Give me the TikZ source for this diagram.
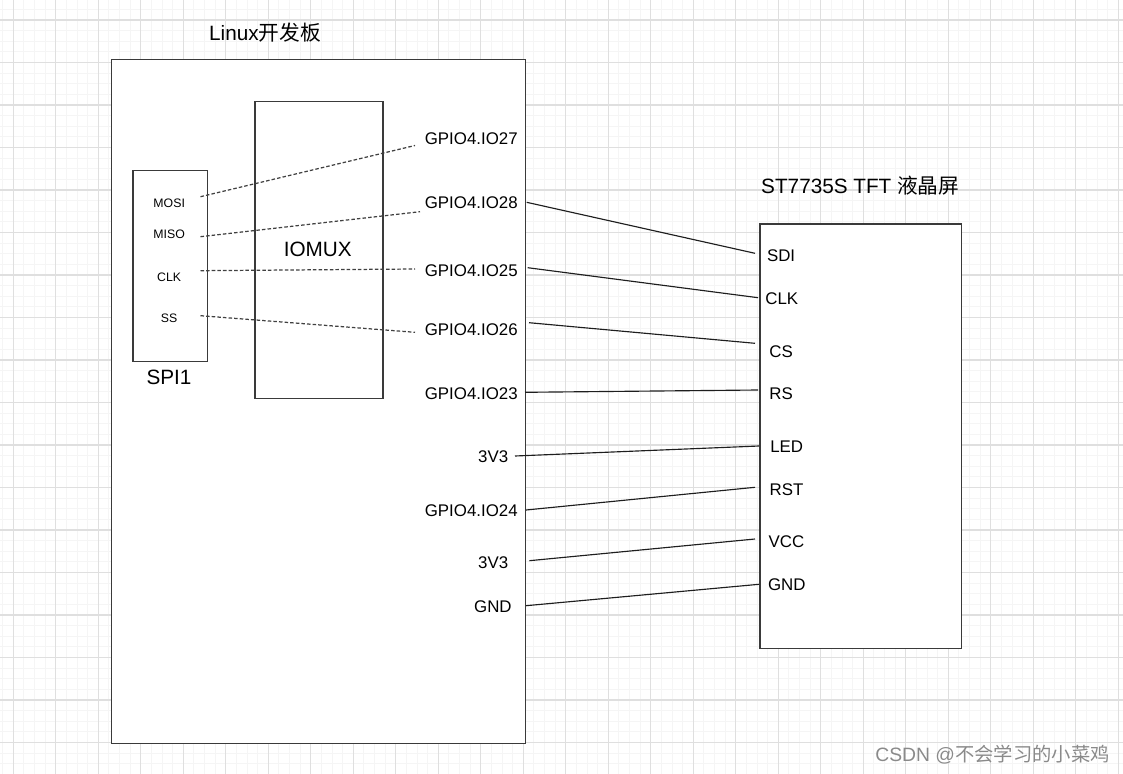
\documentclass[tikz,border=0pt]{standalone}
\usepackage{fontspec}
\setmainfont{Liberation Sans}
\newfontfamily\cjk{Noto Sans CJK SC}
\definecolor{gridmajor}{HTML}{DFDFDF}
\definecolor{gridminor}{HTML}{F5F5F5}
\definecolor{boxline}{HTML}{3A3A3A}
\definecolor{wire}{HTML}{1E1E1E}
\definecolor{mark}{HTML}{8A8A8A}
\tikzset{
  pinlbl/.style={inner sep=0pt, font=\fontsize{9.6}{11}\selectfont},
  siglbl/.style={inner sep=0pt, font=\fontsize{7}{8}\selectfont},
  heading/.style={inner sep=0pt, font=\fontsize{11.8}{14}\selectfont},
  block/.style={draw=boxline, fill=white, line width=0.7pt, anchor=north west, inner sep=0pt},
  link/.style={draw=wire, line width=0.65pt},
  muxlink/.style={draw=black!75, line width=0.7pt, dash pattern=on 2pt off 1.2pt},
}
\begin{document}
\begin{tikzpicture}[x=0.02cm, y=-0.02cm]
\useasboundingbox (0,0) rectangle (1123,774);
%
% background grid
\foreach \i in {0,...,105} \draw[gridminor, line width=0.5pt] ({2.675+10.625*\i},0) -- ++(0,774);
\foreach \j in {0,...,72}  \draw[gridminor, line width=0.5pt] (0,{9.375+10.625*\j}) -- ++(1123,0);
\foreach \i in {0,...,26}  \draw[gridmajor, line width=0.6pt] ({13.3+42.5*\i},0) -- ++(0,774);
\foreach \j in {0,...,17}  \draw[gridmajor, line width=0.6pt] (0,{20+42.5*\j}) -- ++(1123,0);
%
% boxes
\node[block, minimum width=8.28cm, minimum height=13.69cm] (board) at (111,58.7) {};
\node[block, minimum width=2.56cm, minimum height=5.95cm] (iomux) at (254.3,100.7) {};
\node[block, minimum width=1.49cm, minimum height=3.82cm] (spi) at (132.3,170) {};
\node[block, minimum width=4.03cm, minimum height=8.49cm] (lcd) at (759.3,223.3) {};
%
% titles
\node[heading, anchor=base] (boardname) at (265,40) {Linux{\cjk 开发板}};
\node[heading, anchor=base] (iomuxname) at (317.8,256.7) {IOMUX};
\node[heading, anchor=base] (spiname) at (169,384.3) {SPI1};
\node[heading, anchor=base] (lcdname) at (860.3,193.3) {ST7735S TFT {\cjk 液晶屏}};
%
% SPI1 signals
\node[siglbl, anchor=base] (mosi) at (169.2,207.3) {MOSI};
\node[siglbl, anchor=base] (miso) at (169.2,238.3) {MISO};
\node[siglbl, anchor=base] (sclk) at (169.2,281) {CLK};
\node[siglbl, anchor=base] (ss)   at (169.2,322.3) {SS};
%
% board pins
\node[pinlbl, anchor=base east] (g27)  at (518,144)     {GPIO4.IO27};
\node[pinlbl, anchor=base east] (g28)  at (518,208.3)   {GPIO4.IO28};
\node[pinlbl, anchor=base east] (g25)  at (518,276.7)   {GPIO4.IO25};
\node[pinlbl, anchor=base east] (g26)  at (518,335)     {GPIO4.IO26};
\node[pinlbl, anchor=base east] (g23)  at (518,399)     {GPIO4.IO23};
\node[pinlbl, anchor=base east] (pwra) at (508.5,462.3) {3V3};
\node[pinlbl, anchor=base east] (g24)  at (518,516)     {GPIO4.IO24};
\node[pinlbl, anchor=base east] (pwrb) at (508.5,568)   {3V3};
\node[pinlbl, anchor=base east] (gnda) at (512,612.3)   {GND};
%
% screen pins
\node[pinlbl, anchor=base west] (sdi)  at (766.7,261)   {SDI};
\node[pinlbl, anchor=base west] (clk)  at (765,304)     {CLK};
\node[pinlbl, anchor=base west] (cs)   at (769,357)     {CS};
\node[pinlbl, anchor=base west] (rs)   at (769,399)     {RS};
\node[pinlbl, anchor=base west] (led)  at (770,452.7)   {LED};
\node[pinlbl, anchor=base west] (rst)  at (769.3,495)   {RST};
\node[pinlbl, anchor=base west] (vcc)  at (768.3,547.7) {VCC};
\node[pinlbl, anchor=base west] (gndb) at (767.7,590)   {GND};
%
% wire ends
\coordinate (mosiR) at (200.5,196.7);  \coordinate (g27L) at (415,145.5);
\coordinate (misoR) at (200.5,236.7);  \coordinate (g28L) at (420,211.7);
\coordinate (sclkR) at (200.5,270.7);  \coordinate (g25L) at (415,269);
\coordinate (ssR)   at (200.5,315.7);  \coordinate (g26L) at (415,332.3);
%
\coordinate (g28R)  at (526.7,202.3);  \coordinate (sdiL)  at (755,253.3);
\coordinate (g25R)  at (527.7,267.7);  \coordinate (clkL)  at (758,297.7);
\coordinate (g26R)  at (529,322.7);    \coordinate (csL)   at (755,343.3);
\coordinate (g23R)  at (525,392.3);    \coordinate (rsL)   at (758,390);
\coordinate (pwraR) at (515,456);      \coordinate (ledL)  at (759,446);
\coordinate (g24R)  at (526,510);      \coordinate (rstL)  at (755,487.3);
\coordinate (pwrbR) at (529.3,560.7);  \coordinate (vccL)  at (755,539);
\coordinate (gndaR) at (526,605.7);    \coordinate (gndbL) at (759,584.3);
%
% SPI1 through IOMUX
\draw[muxlink] (mosiR) -- (g27L);
\draw[muxlink] (misoR) -- (g28L);
\draw[muxlink] (sclkR) -- (g25L);
\draw[muxlink] (ssR) -- (g26L);
%
% board to screen
\draw[link] (g28R) -- (sdiL);
\draw[link] (g25R) -- (clkL);
\draw[link] (g26R) -- (csL);
\draw[link] (g23R) -- (rsL);
\draw[link] (pwraR) -- (ledL);
\draw[link] (g24R) -- (rstL);
\draw[link] (pwrbR) -- (vccL);
\draw[link] (gndaR) -- (gndbL);
%
\node[inner sep=0pt, anchor=base, text=mark, font=\fontsize{11}{13}\selectfont] (credit)
  at (992.5,761.7) {CSDN @{\cjk 不会学习的小菜鸡}};
\end{tikzpicture}
\end{document}
